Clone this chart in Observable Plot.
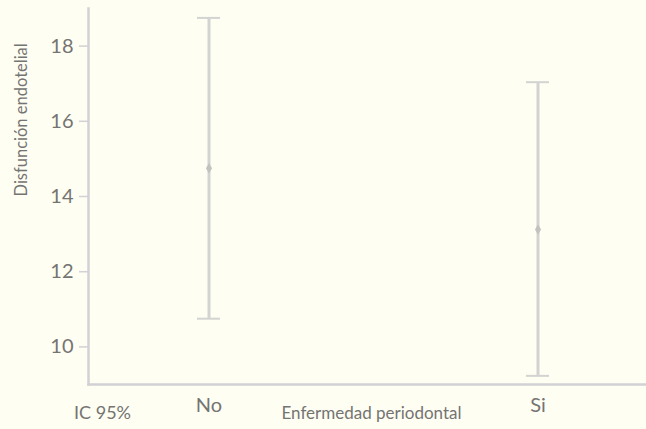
<!DOCTYPE html>
<html>
<head>
<meta charset="utf-8">
<script src="https://cdn.jsdelivr.net/npm/d3@7"></script>
<script src="https://cdn.jsdelivr.net/npm/@observablehq/plot@0.6"></script>
<style>
  html, body { margin: 0; padding: 0; background: #fffef3; }
  #chart { width: 646px; height: 429px; }
</style>
</head>
<body>
<div id="chart"></div>
<script>
const categories = ["No", "Si"];
const means = [14.75, 13.12];
const lowers = [10.75, 9.23];
const uppers = [18.75, 17.04];
const yTicks = [10, 12, 14, 16, 18];
const yLabel = "Disfunción endotelial";
const xLabel = "Enfermedad periodontal";
const noteLabel = "IC 95%";

const data = categories.map((c, i) => ({cat: c, mean: means[i], lo: lowers[i], hi: uppers[i]}));

const barColor = "#d3d3d1";
const axisColor = "#d2d1d5";
const textColor = "#747472";
const font = "Lato, 'Noto Sans', sans-serif";

const chart = Plot.plot({
  width: 646,
  height: 429,
  marginLeft: 88,
  marginRight: 0,
  marginTop: 8,
  marginBottom: 45,
  style: {background: "#fffef3", fontFamily: font, color: textColor},
  x: {type: "band", domain: categories, paddingInner: 0.9303, paddingOuter: 0, align: 0.5, insetLeft: 108, insetRight: 97, axis: null},
  y: {domain: [9, 19], axis: null},
  marks: [
    Plot.frame({anchor: "left", stroke: axisColor, strokeWidth: 2.5}),
    Plot.frame({anchor: "bottom", stroke: axisColor, strokeWidth: 2.5}),
    Plot.axisY({ticks: yTicks, tickSize: 9, tickPadding: 6, stroke: axisColor, strokeWidth: 1.5, fill: textColor, fontSize: 20, label: null}),
    Plot.axisX({tickSize: 0, tickPadding: 13, fill: textColor, fontSize: 20, label: null}),
    Plot.ruleX(data, {x: "cat", y1: "lo", y2: "hi", stroke: barColor, strokeWidth: 3}),
    Plot.tickY(data, {x: "cat", y: "lo", stroke: barColor, strokeWidth: 2}),
    Plot.tickY(data, {x: "cat", y: "hi", stroke: barColor, strokeWidth: 2}),
    Plot.dot(data, {x: "cat", y: "mean", symbol: "diamond", r: 3.2, fill: "#c2c2bf", stroke: "none"}),
    Plot.text([yLabel], {text: d => d, frameAnchor: "left", dx: -67, rotate: -90, fontSize: 16.5, fill: textColor}),
    Plot.text([xLabel], {text: d => d, frameAnchor: "bottom", dx: 4, dy: 34, fontSize: 17, fill: textColor}),
    Plot.text([noteLabel], {text: d => d, frameAnchor: "bottom-left", textAnchor: "middle", dx: 14, dy: 34, fontSize: 18, fill: textColor})
  ]
});
document.getElementById("chart").appendChild(chart);
</script>
</body>
</html>
